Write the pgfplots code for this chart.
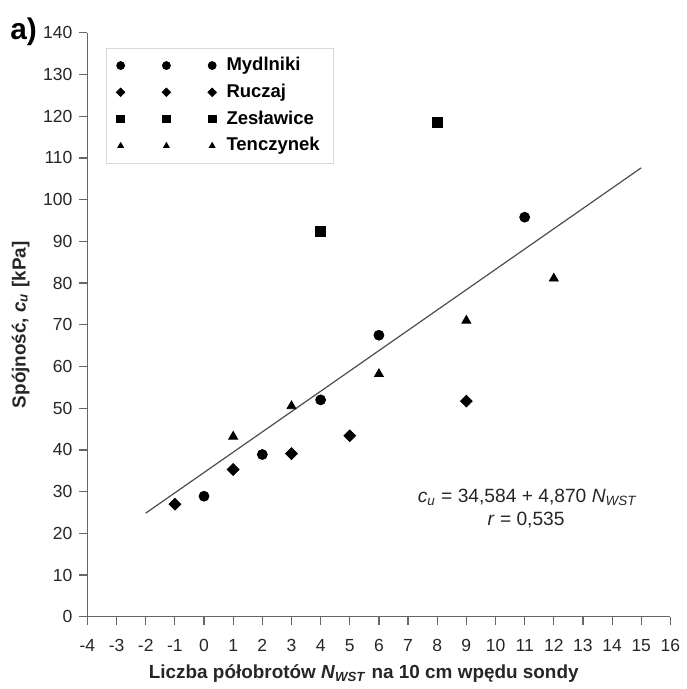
\documentclass[border=0pt]{standalone}
\usepackage{pgfplots}
\pgfplotsset{compat=1.18}
\usepackage{fontspec}
\setmainfont{Liberation Sans}
\pgfplotsset{
  trimark/.style={legend image code/.code={%
    \draw[##1,mark size=#1] plot coordinates {(0pt,0pt) (23pt,0pt) (46pt,0pt)};
    \path (51pt,0pt);}}
}
\begin{document}
\begin{tikzpicture}
\begin{axis}[
  width=293pt, height=293.5pt, scale only axis,
  xmin=-4, xmax=16, ymin=0, ymax=140,
  axis lines*=left,
  axis line style={draw=black!60, line width=0.7pt},
  tick align=outside, major tick length=4pt,
  tick style={draw=black!60, line width=0.6pt},
  xtick={-4,...,16}, ytick={0,10,...,140},
  /pgf/number format/assume math mode=true,
  ticklabel style={font=\fontsize{8.8}{10}\selectfont, text=black!85},
  xticklabel style={yshift=-4pt},
  xlabel={Liczba półobrotów \textit{N}\textsubscript{\textit{WST}} na 10 cm wpędu sondy},
  ylabel={Spójność, \textit{c}\textsubscript{\textit{u}} [kPa]},
  label style={font=\fontsize{9.5}{10}\selectfont\bfseries, text=black!85},
  xlabel style={at={(rel axis cs:0.474,0)}, anchor=base, yshift=-31pt},
  clip=false,
  legend style={at={(rel axis cs:0.032,0.974)}, anchor=north west,
    draw=black!15, line width=0.4pt,
    font=\fontsize{9.3}{10}\selectfont\bfseries,
    row sep=1.2pt, inner xsep=5pt, inner ysep=2.5pt},
  legend cell align=left,
]
\addplot[only marks, mark=*, mark size=2.5pt, black, trimark=2pt]
  coordinates {(0,28.9) (2,38.9) (4,52.0) (6,67.5) (11,95.8)};
\addlegendentry{Mydlniki}
\addplot[only marks, mark=square*, mark options={rotate=45}, mark size=2.1pt, black, trimark=1.5pt]
  coordinates {(-1,27.0) (1,35.3) (3,39.1) (5,43.4) (9,51.7)};
\addlegendentry{Ruczaj}
\addplot[only marks, mark=square*, mark size=2.5pt, black, trimark=1.9pt]
  coordinates {(4,92.3) (8,118.5)};
\addlegendentry{Zesławice}
\addplot[only marks, mark=triangle*, mark size=2.6pt, black, trimark=1.6pt]
  coordinates {(1,43.2) (3,50.5) (6,58.2) (9,71.0) (12,81.1)};
\addlegendentry{Tenczynek}
\addplot[black!70, line width=0.6pt, forget plot]
  coordinates {(-2,24.844) (15,107.634)};
\node[anchor=base, font=\fontsize{9.65}{10}\selectfont, text=black!85]
  at (axis cs:11.10,27.4) {\textit{c}\textsubscript{\textit{u}} = 34,584 + 4,870 \textit{N}\textsubscript{\textit{WST}}};
\node[anchor=base, font=\fontsize{9.65}{10}\selectfont, text=black!85]
  at (axis cs:11.05,21.9) {\textit{r} = 0,535};
\node[anchor=base west, inner sep=0pt, font=\fontsize{15}{16}\selectfont\bfseries]
  at (axis cs:-6.66,138.3) {a)};
\coordinate (bl) at (axis cs:-7.0,-16.46);
\coordinate (tr) at (axis cs:16.44,147.87);
\end{axis}
\useasboundingbox (bl) rectangle (tr);
\end{tikzpicture}
\end{document}
